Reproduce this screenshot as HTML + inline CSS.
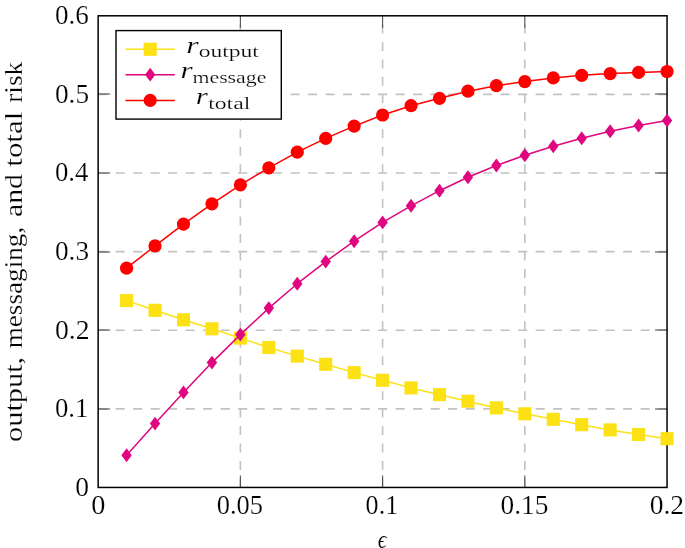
<!DOCTYPE html>
<html><head><meta charset="utf-8"><style>
html,body{margin:0;padding:0;background:#fff;width:685px;height:548px;overflow:hidden}
svg{display:block;will-change:transform}
text{font-family:"Liberation Serif",serif;fill:#000;stroke:#fff;stroke-width:0.2px}
</style></head><body>
<svg width="685" height="548" viewBox="0 0 685 548">
<g stroke="#c2c2c2" stroke-width="1.6" fill="none">
<line x1="240.38" y1="487.45" x2="240.38" y2="15.8" stroke-dasharray="9.02 8.44"/>
<line x1="382.6" y1="487.45" x2="382.6" y2="15.8" stroke-dasharray="9.02 8.44"/>
<line x1="524.83" y1="487.45" x2="524.83" y2="15.8" stroke-dasharray="9.02 8.44"/>
<line x1="98.15" y1="408.84" x2="667.05" y2="408.84" stroke-dasharray="9.05 8.45"/>
<line x1="98.15" y1="330.23" x2="667.05" y2="330.23" stroke-dasharray="9.05 8.45"/>
<line x1="98.15" y1="251.62" x2="667.05" y2="251.62" stroke-dasharray="9.05 8.45"/>
<line x1="98.15" y1="173.02" x2="667.05" y2="173.02" stroke-dasharray="9.05 8.45"/>
<line x1="98.15" y1="94.41" x2="667.05" y2="94.41" stroke-dasharray="9.05 8.45"/>
</g>
<g stroke="#505050" stroke-width="1.1">
<line x1="240.38" y1="487.45" x2="240.38" y2="475.45"/>
<line x1="240.38" y1="15.8" x2="240.38" y2="27.8"/>
<line x1="382.6" y1="487.45" x2="382.6" y2="475.45"/>
<line x1="382.6" y1="15.8" x2="382.6" y2="27.8"/>
<line x1="524.83" y1="487.45" x2="524.83" y2="475.45"/>
<line x1="524.83" y1="15.8" x2="524.83" y2="27.8"/>
<line x1="98.15" y1="409" x2="110.15" y2="409"/>
<line x1="667.05" y1="409" x2="655.05" y2="409"/>
<line x1="98.15" y1="330" x2="110.15" y2="330"/>
<line x1="667.05" y1="330" x2="655.05" y2="330"/>
<line x1="98.15" y1="252" x2="110.15" y2="252"/>
<line x1="667.05" y1="252" x2="655.05" y2="252"/>
<line x1="98.15" y1="173" x2="110.15" y2="173"/>
<line x1="667.05" y1="173" x2="655.05" y2="173"/>
<line x1="98.15" y1="94" x2="110.15" y2="94"/>
<line x1="667.05" y1="94" x2="655.05" y2="94"/>
</g>
<rect x="98.15" y="15.8" width="568.9" height="471.65" fill="none" stroke="#000" stroke-width="1.5"/>
<polyline points="126.59,300.6 155.04,310.3 183.49,319.8 211.93,328.8 240.38,338.1 268.82,347.5 297.26,356.1 325.71,364.3 354.15,372.6 382.6,380.3 411.04,387.9 439.49,394.65 467.93,401.2 496.38,407.9 524.82,413.8 553.27,419.3 581.72,424.65 610.16,429.9 638.6,434.5 667.05,438.7" fill="none" stroke="#fce115" stroke-width="1.5" stroke-linejoin="round"/>
<g fill="#fce115">
<rect x="120.05" y="294.05" width="13.1" height="13.1"/>
<rect x="148.49" y="303.75" width="13.1" height="13.1"/>
<rect x="176.94" y="313.25" width="13.1" height="13.1"/>
<rect x="205.38" y="322.25" width="13.1" height="13.1"/>
<rect x="233.82" y="331.55" width="13.1" height="13.1"/>
<rect x="262.27" y="340.95" width="13.1" height="13.1"/>
<rect x="290.71" y="349.55" width="13.1" height="13.1"/>
<rect x="319.16" y="357.75" width="13.1" height="13.1"/>
<rect x="347.6" y="366.05" width="13.1" height="13.1"/>
<rect x="376.05" y="373.75" width="13.1" height="13.1"/>
<rect x="404.49" y="381.35" width="13.1" height="13.1"/>
<rect x="432.94" y="388.1" width="13.1" height="13.1"/>
<rect x="461.38" y="394.65" width="13.1" height="13.1"/>
<rect x="489.83" y="401.35" width="13.1" height="13.1"/>
<rect x="518.27" y="407.25" width="13.1" height="13.1"/>
<rect x="546.72" y="412.75" width="13.1" height="13.1"/>
<rect x="575.17" y="418.1" width="13.1" height="13.1"/>
<rect x="603.61" y="423.35" width="13.1" height="13.1"/>
<rect x="632.05" y="427.95" width="13.1" height="13.1"/>
<rect x="660.5" y="432.15" width="13.1" height="13.1"/>
</g>
<polyline points="126.59,455.3 155.04,423.6 183.49,392.4 211.93,362.6 240.38,334.6 268.82,308.1 297.26,283.7 325.71,261.6 354.15,241.2 382.6,222.4 411.04,205.8 439.49,190.7 467.93,177.3 496.38,165.5 524.82,155.3 553.27,146.2 581.72,138.3 610.16,131.3 638.6,125.5 667.05,120.6" fill="none" stroke="#e0067f" stroke-width="1.5" stroke-linejoin="round"/>
<g fill="#e0067f">
<path d="M126.59 448.35L131.79 455.3L126.59 462.25L121.39 455.3Z"/>
<path d="M155.04 416.65L160.24 423.6L155.04 430.55L149.84 423.6Z"/>
<path d="M183.49 385.45L188.69 392.4L183.49 399.35L178.29 392.4Z"/>
<path d="M211.93 355.65L217.13 362.6L211.93 369.55L206.73 362.6Z"/>
<path d="M240.38 327.65L245.57 334.6L240.38 341.55L235.18 334.6Z"/>
<path d="M268.82 301.15L274.02 308.1L268.82 315.05L263.62 308.1Z"/>
<path d="M297.26 276.75L302.46 283.7L297.26 290.65L292.06 283.7Z"/>
<path d="M325.71 254.65L330.91 261.6L325.71 268.55L320.51 261.6Z"/>
<path d="M354.15 234.25L359.35 241.2L354.15 248.15L348.95 241.2Z"/>
<path d="M382.6 215.45L387.8 222.4L382.6 229.35L377.4 222.4Z"/>
<path d="M411.04 198.85L416.24 205.8L411.04 212.75L405.84 205.8Z"/>
<path d="M439.49 183.75L444.69 190.7L439.49 197.65L434.29 190.7Z"/>
<path d="M467.93 170.35L473.13 177.3L467.93 184.25L462.73 177.3Z"/>
<path d="M496.38 158.55L501.58 165.5L496.38 172.45L491.18 165.5Z"/>
<path d="M524.82 148.35L530.02 155.3L524.82 162.25L519.62 155.3Z"/>
<path d="M553.27 139.25L558.47 146.2L553.27 153.15L548.07 146.2Z"/>
<path d="M581.72 131.35L586.92 138.3L581.72 145.25L576.51 138.3Z"/>
<path d="M610.16 124.35L615.36 131.3L610.16 138.25L604.96 131.3Z"/>
<path d="M638.6 118.55L643.8 125.5L638.6 132.45L633.4 125.5Z"/>
<path d="M667.05 113.65L672.25 120.6L667.05 127.55L661.85 120.6Z"/>
</g>
<polyline points="126.59,268.2 155.04,245.9 183.49,224.05 211.93,203.8 240.38,184.8 268.82,167.8 297.26,152.2 325.71,138.4 354.15,126.1 382.6,115 411.04,105.7 439.49,98.3 467.93,91.2 496.38,85.7 524.82,81.6 553.27,77.9 581.72,75.3 610.16,73.6 638.6,72.4 667.05,71.5" fill="none" stroke="#ff0000" stroke-width="1.5" stroke-linejoin="round"/>
<g fill="#ff0000">
<circle cx="126.59" cy="268.2" r="6.6"/>
<circle cx="155.04" cy="245.9" r="6.6"/>
<circle cx="183.49" cy="224.05" r="6.6"/>
<circle cx="211.93" cy="203.8" r="6.6"/>
<circle cx="240.38" cy="184.8" r="6.6"/>
<circle cx="268.82" cy="167.8" r="6.6"/>
<circle cx="297.26" cy="152.2" r="6.6"/>
<circle cx="325.71" cy="138.4" r="6.6"/>
<circle cx="354.15" cy="126.1" r="6.6"/>
<circle cx="382.6" cy="115" r="6.6"/>
<circle cx="411.04" cy="105.7" r="6.6"/>
<circle cx="439.49" cy="98.3" r="6.6"/>
<circle cx="467.93" cy="91.2" r="6.6"/>
<circle cx="496.38" cy="85.7" r="6.6"/>
<circle cx="524.82" cy="81.6" r="6.6"/>
<circle cx="553.27" cy="77.9" r="6.6"/>
<circle cx="581.72" cy="75.3" r="6.6"/>
<circle cx="610.16" cy="73.6" r="6.6"/>
<circle cx="638.6" cy="72.4" r="6.6"/>
<circle cx="667.05" cy="71.5" r="6.6"/>
</g>
<rect x="116" y="30.6" width="165.3" height="88.5" fill="#fff" stroke="#000" stroke-width="1.4"/>
<line x1="125.5" y1="49.3" x2="174.8" y2="49.3" stroke="#fce115" stroke-width="1.5"/>
<g fill="#fce115"><rect x="143.65" y="42.75" width="13.1" height="13.1"/></g>
<line x1="125.5" y1="74.65" x2="174.8" y2="74.65" stroke="#e0067f" stroke-width="1.5"/>
<g fill="#e0067f"><path d="M150.2 67.7L155.4 74.65L150.2 81.6L145 74.65Z"/></g>
<line x1="125.5" y1="100.4" x2="174.8" y2="100.4" stroke="#ff0000" stroke-width="1.5"/>
<g fill="#ff0000"><circle cx="150.2" cy="100.4" r="6.6"/></g>
<text x="186.31" y="53" font-size="24.0" font-style="italic" textLength="12.4" lengthAdjust="spacingAndGlyphs">r</text>
<text x="198.7" y="56.85" font-size="17.5" textLength="60.24" lengthAdjust="spacingAndGlyphs">output</text>
<text x="180.53" y="77.8" font-size="24.0" font-style="italic" textLength="12.18" lengthAdjust="spacingAndGlyphs">r</text>
<text x="192.54" y="82.9" font-size="17.5" textLength="73.81" lengthAdjust="spacingAndGlyphs">message</text>
<text x="195.74" y="103.9" font-size="24.0" font-style="italic" textLength="12.07" lengthAdjust="spacingAndGlyphs">r</text>
<text x="208.17" y="108.75" font-size="17.5" textLength="42.11" lengthAdjust="spacingAndGlyphs">total</text>
<text x="75.15" y="495.85" font-size="27.0" textLength="13.8" lengthAdjust="spacingAndGlyphs">0</text>
<text x="54.98" y="417.24" font-size="27.0" textLength="33.42" lengthAdjust="spacingAndGlyphs">0.1</text>
<text x="54.95" y="338.63" font-size="27.0" textLength="34.58" lengthAdjust="spacingAndGlyphs">0.2</text>
<text x="54.96" y="260.02" font-size="27.0" textLength="34.1" lengthAdjust="spacingAndGlyphs">0.3</text>
<text x="54.98" y="181.42" font-size="27.0" textLength="33.44" lengthAdjust="spacingAndGlyphs">0.4</text>
<text x="54.96" y="102.81" font-size="27.0" textLength="34.1" lengthAdjust="spacingAndGlyphs">0.5</text>
<text x="54.97" y="24.2" font-size="27.0" textLength="33.84" lengthAdjust="spacingAndGlyphs">0.6</text>
<text x="91.22" y="514.2" font-size="27.0" textLength="14.16" lengthAdjust="spacingAndGlyphs">0</text>
<text x="216.69" y="514.2" font-size="27.0" textLength="46.34" lengthAdjust="spacingAndGlyphs">0.05</text>
<text x="365.61" y="514.2" font-size="27.0" textLength="32.56" lengthAdjust="spacingAndGlyphs">0.1</text>
<text x="500.56" y="514.2" font-size="27.0" textLength="47.91" lengthAdjust="spacingAndGlyphs">0.15</text>
<text x="649.65" y="514.2" font-size="27.0" textLength="34.47" lengthAdjust="spacingAndGlyphs">0.2</text>
<text x="377.65" y="547.6" font-size="25" font-style="italic" textLength="8.85" lengthAdjust="spacingAndGlyphs">&#x3F5;</text>
<text transform="translate(22.1 0) rotate(-90)" x="-441.96" y="0" font-size="25.0" textLength="85.17" lengthAdjust="spacingAndGlyphs">output,</text>
<text transform="translate(22.1 0) rotate(-90)" x="-348.37" y="0" font-size="25.0" textLength="121.58" lengthAdjust="spacingAndGlyphs">messaging,</text>
<text transform="translate(22.1 0) rotate(-90)" x="-217.05" y="0" font-size="25.0" textLength="43.01" lengthAdjust="spacingAndGlyphs">and</text>
<text transform="translate(22.1 0) rotate(-90)" x="-166.7" y="0" font-size="25.0" textLength="54.92" lengthAdjust="spacingAndGlyphs">total</text>
<text transform="translate(22.1 0) rotate(-90)" x="-102.75" y="0" font-size="25.0" textLength="41" lengthAdjust="spacingAndGlyphs">risk</text>
</svg>
</body></html>
